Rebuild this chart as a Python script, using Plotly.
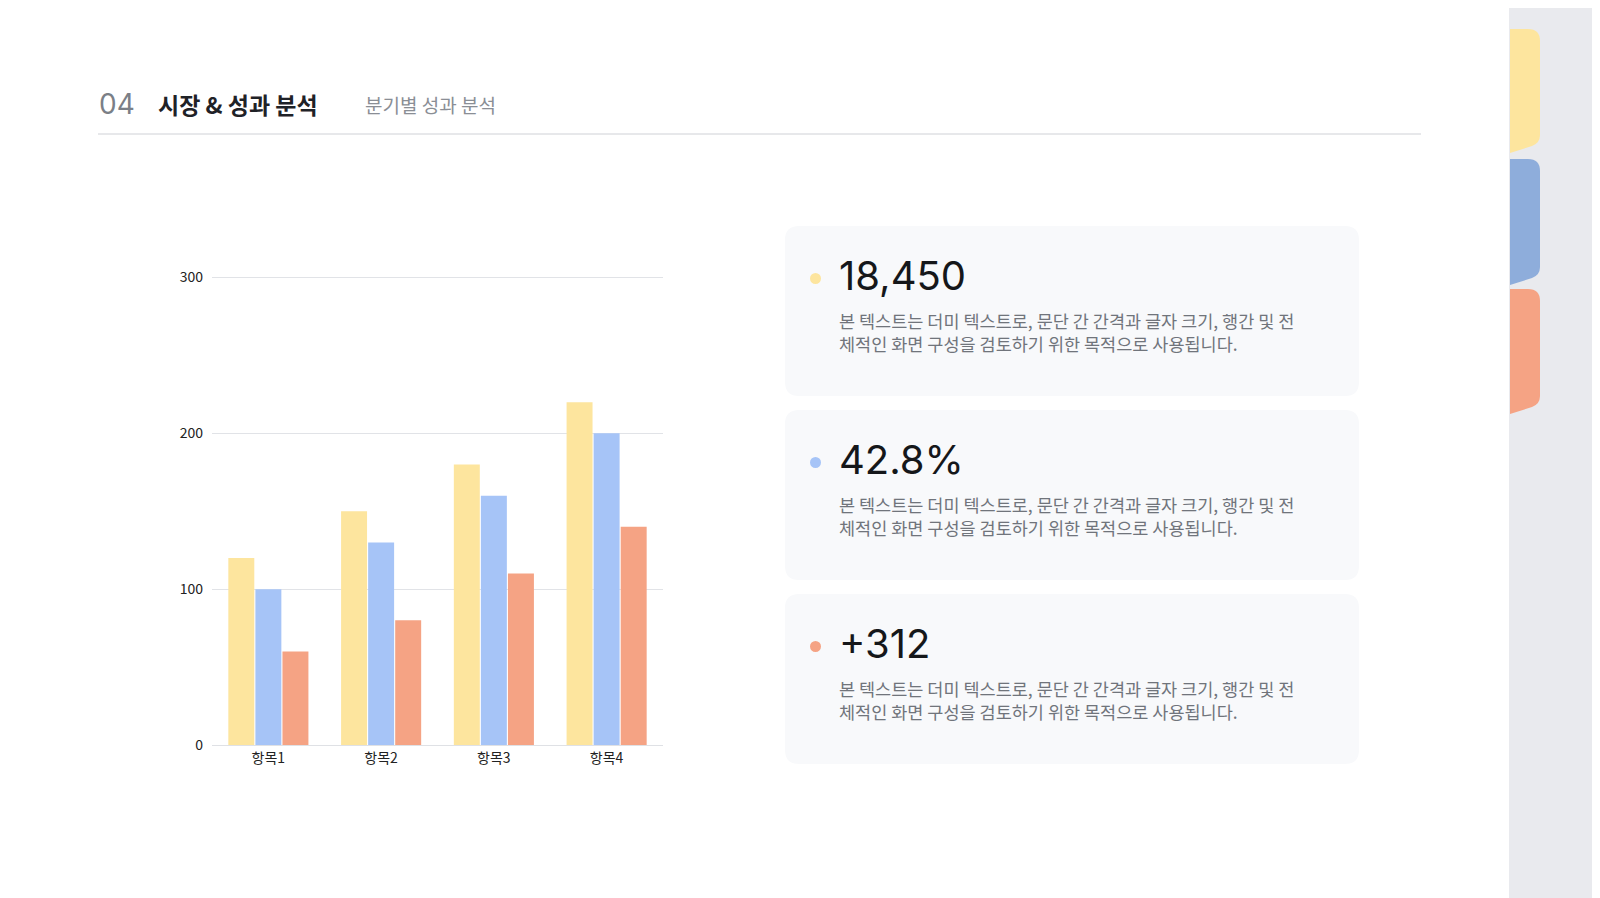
import plotly.graph_objects as go

categories = ["항목1", "항목2", "항목3", "항목4"]
series_a = [120, 150, 180, 220]
series_b = [100, 130, 160, 200]
series_c = [60, 80, 110, 140]
y_ticks = [0, 100, 200, 300]
card_values = ["18,450", "42.8%", "+312"]
card_text = "본 텍스트는 더미 텍스트로, 문단 간 간격과 글자 크기, 행간 및 전<br>체적인 화면 구성을 검토하기 위한 목적으로 사용됩니다."

W, H = 1600, 898
L, R, T, B = 204, 655, 268, 737
FONT = "Noto Sans CJK KR, Inter, sans-serif"
YELLOW, BLUE, ORANGE = "#fde59e", "#a6c4f7", "#f5a384"


def fx(px):
    return (px - L) / (R - L)


def fy(py):
    return (B - py) / (B - T)


def rrect(x0, y0, x1, y1, r):
    # rounded rectangle in pixel coords -> paper path
    p = [
        f"M{fx(x0 + r)},{fy(y0)}",
        f"L{fx(x1 - r)},{fy(y0)}",
        f"Q{fx(x1)},{fy(y0)} {fx(x1)},{fy(y0 + r)}",
        f"L{fx(x1)},{fy(y1 - r)}",
        f"Q{fx(x1)},{fy(y1)} {fx(x1 - r)},{fy(y1)}",
        f"L{fx(x0 + r)},{fy(y1)}",
        f"Q{fx(x0)},{fy(y1)} {fx(x0)},{fy(y1 - r)}",
        f"L{fx(x0)},{fy(y0 + r)}",
        f"Q{fx(x0)},{fy(y0)} {fx(x0 + r)},{fy(y0)}",
        "Z",
    ]
    return " ".join(p)


def tab(x0, y0, x1, y1, r):
    # side tab: flat left edge, rounded right, slanted bottom
    p = [
        f"M{fx(x0)},{fy(y0)}",
        f"L{fx(x1 - r)},{fy(y0)}",
        f"Q{fx(x1)},{fy(y0)} {fx(x1)},{fy(y0 + r)}",
        f"L{fx(x1)},{fy(y1 - 18)}",
        f"Q{fx(x1)},{fy(y1 - 10)} {fx(x1 - 8)},{fy(y1 - 7)}",
        f"L{fx(x0)},{fy(y1)}",
        "Z",
    ]
    return " ".join(p)


def note(text, px, py, size, color, family=FONT, align="left"):
    return dict(text=text, x=fx(px), y=fy(py), xref="paper", yref="paper", showarrow=False,
                xanchor="left", yanchor="middle", align=align,
                font=dict(size=size, color=color, family=family))


fig = go.Figure()
for name, vals, col in [("A", series_a, YELLOW), ("B", series_b, BLUE), ("C", series_c, ORANGE)]:
    fig.add_trace(go.Bar(x=categories, y=vals, name=name, marker_color=col,
                         marker_line_width=0, hoverinfo="y"))

shapes = [
    dict(type="rect", xref="paper", yref="paper", x0=fx(0), x1=fx(W), y0=fy(0), y1=fy(H),
         fillcolor="#e9eaee", line_width=0, layer="below"),
    dict(type="path", xref="paper", yref="paper", path=rrect(-40, -40, 1501, H + 40, 22),
         fillcolor="white", line_width=0, layer="below"),
    dict(type="path", xref="paper", yref="paper", path=tab(1502, 21, 1532, 145, 12),
         fillcolor=YELLOW, line_width=0, layer="below"),
    dict(type="path", xref="paper", yref="paper", path=tab(1502, 151, 1532, 277, 12),
         fillcolor="#8eaddb", line_width=0, layer="below"),
    dict(type="path", xref="paper", yref="paper", path=tab(1502, 281, 1532, 406, 12),
         fillcolor=ORANGE, line_width=0, layer="below"),
    dict(type="line", xref="paper", yref="paper", x0=fx(90), x1=fx(1413), y0=fy(126), y1=fy(126),
         line=dict(color="#cfd1d6", width=1), layer="below"),
]

annotations = [
    note("04", 89, 96, 28, "#7b7f87", "Inter, sans-serif"),
    note("<b>시장 &amp; 성과 분석</b>", 148, 96, 23, "#1f2227"),
    note("분기별 성과 분석", 355, 96, 19, "#8a8e95"),
]

dot_cols = [YELLOW, BLUE, ORANGE]
for i, (val, dc) in enumerate(zip(card_values, dot_cols)):
    top = 218 + i * 184
    shapes.append(dict(type="path", xref="paper", yref="paper",
                       path=rrect(777, top, 1351, top + 170, 14),
                       fillcolor="#f8f9fb", line_width=0, layer="below"))
    shapes.append(dict(type="circle", xref="paper", yref="paper",
                       x0=fx(802), x1=fx(813), y0=fy(top + 47), y1=fy(top + 58),
                       fillcolor=dc, line_width=0, layer="below"))
    annotations.append(note(val, 829, top + 49, 40, "#15171a", "Inter, sans-serif"))
    annotations.append(note(card_text, 829, top + 106, 17.5, "#70747b"))

fig.update_layout(
    width=W, height=H,
    margin=dict(l=L, r=W - R, t=T, b=H - B, pad=0),
    paper_bgcolor="white", plot_bgcolor="rgba(0,0,0,0)",
    barmode="group", bargap=0.28, bargroupgap=0.04,
    showlegend=False,
    shapes=shapes, annotations=annotations,
    font=dict(family=FONT, color="#222"),
    xaxis=dict(showgrid=False, showline=True, linecolor="#dfe1e5", ticks="",
               tickfont=dict(size=14, color="#222")),
    yaxis=dict(range=[0, 301], tickvals=y_ticks, gridcolor="#e1e3e7", zeroline=False,
               tickfont=dict(size=14, color="#222"), ticklabelstandoff=8),
)

fig.write_html("out.html")
